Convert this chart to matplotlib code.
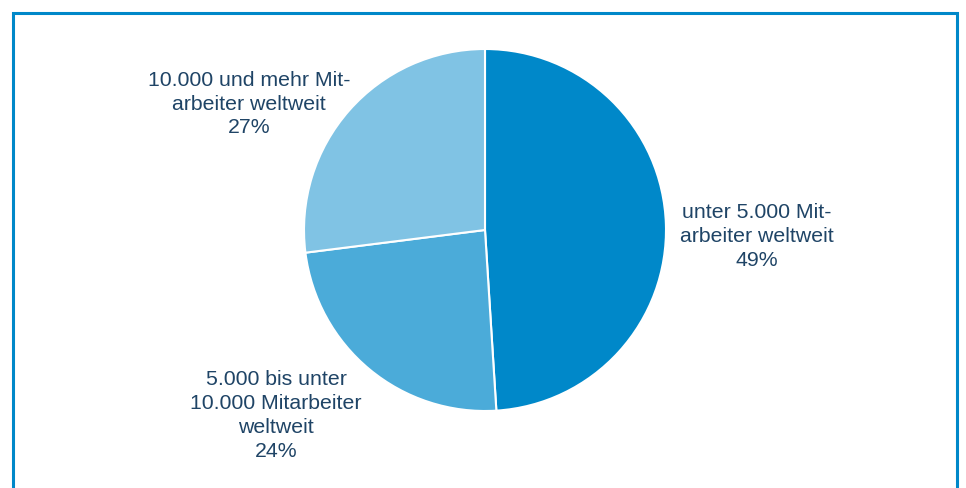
import matplotlib
matplotlib.use("Agg")
import matplotlib.pyplot as plt
from matplotlib.patches import Rectangle

labels = ["unter 5.000 Mit-\narbeiter weltweit",
          "5.000 bis unter\n10.000 Mitarbeiter\nweltweit",
          "10.000 und mehr Mit-\narbeiter weltweit"]
shares = [49, 24, 27]
colors = ["#0088C9", "#4BABD9", "#80C3E4"]

# label centres, in pie radii (centre = 0,0)
label_pos = [(1.503, -0.035), (-1.155, -1.023), (-1.304, 0.696)]

W, H = 966, 488
cx, cy, R = 485, 230, 181

plt.rcParams['font.family'] = ['Liberation Sans', 'DejaVu Sans']
fig = plt.figure(figsize=(W / 100, H / 100), dpi=100)
ax = fig.add_axes([0, 0, 1, 1])

ax.pie(shares, colors=colors, startangle=90, counterclock=False, radius=1,
       wedgeprops=dict(edgecolor='white', linewidth=1.5))

# pie() resets the limits, so set them afterwards
ax.set_xlim(-cx / R, (W - cx) / R)
ax.set_ylim(-(H - cy) / R, cy / R)
ax.set_aspect('equal')
ax.axis('off')

for lab, val, (x, y) in zip(labels, shares, label_pos):
    ax.text(x, y, "%s\n%d%%" % (lab, val), ha='center', va='center',
            fontsize=15.3, color='#1F4466', linespacing=1.33)

# frame round the chart (bottom edge is cut off)
fig.patches.append(Rectangle((13 / W, -0.1), (957 - 13) / W, (H - 13) / H + 0.1,
                             transform=fig.transFigure, fill=False,
                             edgecolor='#0088C9', linewidth=2.2))

fig.savefig("out.png", dpi=100)
